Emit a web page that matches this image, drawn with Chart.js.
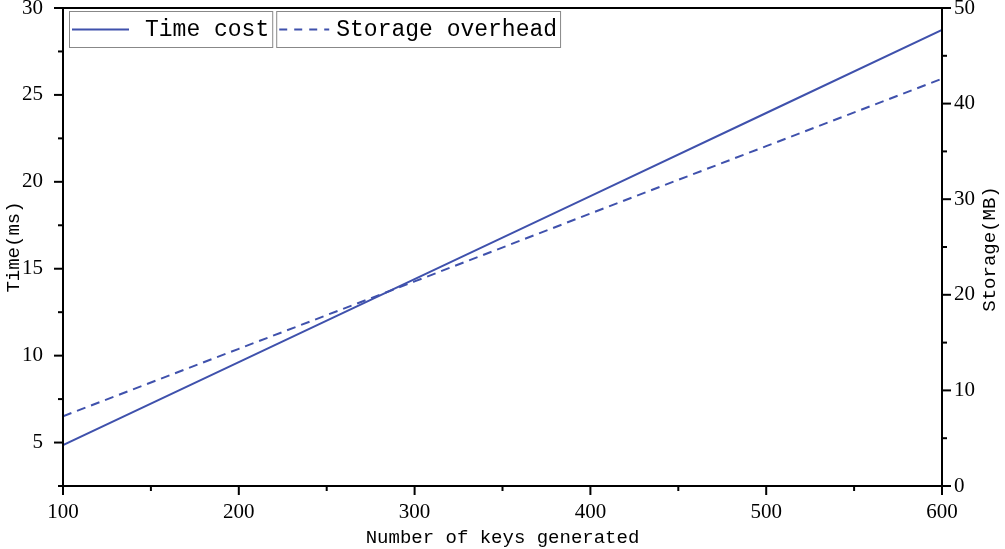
<!DOCTYPE html>
<html>
<head>
<meta charset="utf-8">
<script src="https://cdn.jsdelivr.net/npm/chart.js@4"></script>
<style>
  body { margin: 0; background: #fff; }
  #wrap { width: 1005px; height: 549px; }
</style>
</head>
<body>
<div id="wrap"><canvas id="chart" width="1005" height="549"></canvas></div>
<script>
// data
var keys = [100, 200, 300, 400, 500, 600];
var timeCost = [4.85, 9.63, 14.4, 19.18, 23.96, 28.74];
var storageOverhead = [7.3, 14.35, 21.4, 28.5, 35.55, 42.6];
var seriesNames = ["Time cost", "Storage overhead"];
var rightTitle = "Storage(MB)";

var blue = "#3F51AC";
var serif = "'Liberation Serif', 'DejaVu Serif', serif";
var mono = "'Liberation Mono', 'DejaVu Sans Mono', monospace";

function pts(xs, ys) {
    return xs.map(function (x, i) { return {x: x, y: ys[i]}; });
}
function isMult(v, m) {
    return Math.abs(v / m - Math.round(v / m)) < 1e-6;
}

// frame, major/minor ticks, right title and boxed legend
var decor = {
    id: "decor",
    afterDraw: function (chart) {
        var ctx = chart.ctx, a = chart.chartArea;
        ctx.save();
        ctx.strokeStyle = "#000";
        ctx.lineWidth = 2;
        ctx.strokeRect(a.left, a.top, a.right - a.left, a.bottom - a.top);

        chart.scales.x.ticks.forEach(function (t) {
            var px = chart.scales.x.getPixelForValue(t.value);
            var len = isMult(t.value, 100) ? 9 : 5;
            ctx.beginPath(); ctx.moveTo(px, a.bottom); ctx.lineTo(px, a.bottom + len); ctx.stroke();
        });
        chart.scales.y.ticks.forEach(function (t) {
            var py = chart.scales.y.getPixelForValue(t.value);
            var len = isMult(t.value, 5) ? 9 : 5;
            ctx.beginPath(); ctx.moveTo(a.left, py); ctx.lineTo(a.left - len, py); ctx.stroke();
        });
        chart.scales.y1.ticks.forEach(function (t) {
            var py = chart.scales.y1.getPixelForValue(t.value);
            var len = isMult(t.value, 10) ? 9 : 5;
            ctx.beginPath(); ctx.moveTo(a.right, py); ctx.lineTo(a.right + len, py); ctx.stroke();
        });

        // right axis title, reading bottom to top like the left one
        ctx.save();
        ctx.translate(990, (a.top + a.bottom) / 2 + 2);
        ctx.rotate(-Math.PI / 2);
        ctx.font = "19px " + mono;
        ctx.fillStyle = "#000";
        ctx.textAlign = "center";
        ctx.textBaseline = "middle";
        ctx.fillText(rightTitle, 0, 0);
        ctx.restore();

        // legend
        ctx.font = "23px " + mono;
        ctx.textBaseline = "middle";
        var x = a.left + 6, top = a.top + 3, h = 36;
        var sampleLen = [57, 50], textOff = [76, 60];
        chart.data.datasets.forEach(function (ds, i) {
            var tw = ctx.measureText(ds.label).width;
            var w = textOff[i] + tw + 3;
            ctx.lineWidth = 1;
            ctx.strokeStyle = "#888";
            ctx.setLineDash([]);
            ctx.strokeRect(x + 0.5, top + 0.5, w, h);
            ctx.strokeStyle = ds.borderColor;
            ctx.lineWidth = 2;
            ctx.setLineDash(i === 1 ? [8, 7] : []);
            ctx.beginPath();
            ctx.moveTo(x + 3, top + h / 2 + 0.5);
            ctx.lineTo(x + 3 + sampleLen[i], top + h / 2 + 0.5);
            ctx.stroke();
            ctx.setLineDash([]);
            ctx.fillStyle = "#000";
            ctx.fillText(ds.label, x + textOff[i], top + h / 2 + 1);
            x += w + 4;
        });
        ctx.restore();
    }
};

function fixW(w) {
    return function (s) { s.width = w; s.paddingTop = 0; s.paddingBottom = 0; };
}

var ctx = document.getElementById("chart").getContext("2d");
var myChart = new Chart(ctx, {
    type: "line",
    data: {
        datasets: [{
                label: seriesNames[0],
                data: pts(keys, timeCost),
                borderColor: blue,
                borderWidth: 2,
                pointRadius: 0,
                yAxisID: "y"
            },
            {
                label: seriesNames[1],
                data: pts(keys, storageOverhead),
                borderColor: blue,
                borderWidth: 2,
                borderDash: [9, 6],
                pointRadius: 0,
                yAxisID: "y1"
            }
        ]
    },
    options: {
        responsive: false,
        animation: false,
        layout: { padding: { top: 8, left: 0, right: 0, bottom: 0 } },
        plugins: { legend: { display: false }, tooltip: { enabled: false } },
        scales: {
            x: {
                type: "linear",
                min: 100, max: 600,
                grid: { display: false, drawTicks: false },
                border: { display: false },
                ticks: {
                    stepSize: 50, autoSkip: false, maxRotation: 0, padding: 14,
                    color: "#000", font: { family: serif, size: 21 },
                    callback: function (v) { return isMult(v, 100) ? v : ""; }
                },
                title: {
                    display: true, text: "Number of keys generated", color: "#000",
                    font: { family: mono, size: 19 }, padding: { top: 0, bottom: 0 }
                },
                afterFit: function (s) { s.height = 63; s.paddingLeft = 0; s.paddingRight = 0; }
            },
            y: {
                position: "left",
                min: 2.5, max: 30,
                grid: { display: false, drawTicks: false },
                border: { display: false },
                ticks: {
                    stepSize: 2.5, autoSkip: false, padding: 20,
                    color: "#000", font: { family: serif, size: 21 },
                    callback: function (v) { return isMult(v, 5) ? v : ""; }
                },
                title: {
                    display: true, text: "Time(ms)", color: "#000",
                    font: { family: mono, size: 19 }, padding: { top: 3, bottom: 0 }
                },
                afterFit: fixW(63)
            },
            y1: {
                position: "right",
                min: 0, max: 50,
                grid: { display: false, drawTicks: false },
                border: { display: false },
                ticks: {
                    stepSize: 5, autoSkip: false, padding: 12,
                    color: "#000", font: { family: serif, size: 21 },
                    callback: function (v) { return isMult(v, 10) ? v : ""; }
                },
                afterFit: fixW(63)
            }
        }
    },
    plugins: [decor]
});
</script>
</body>
</html>
